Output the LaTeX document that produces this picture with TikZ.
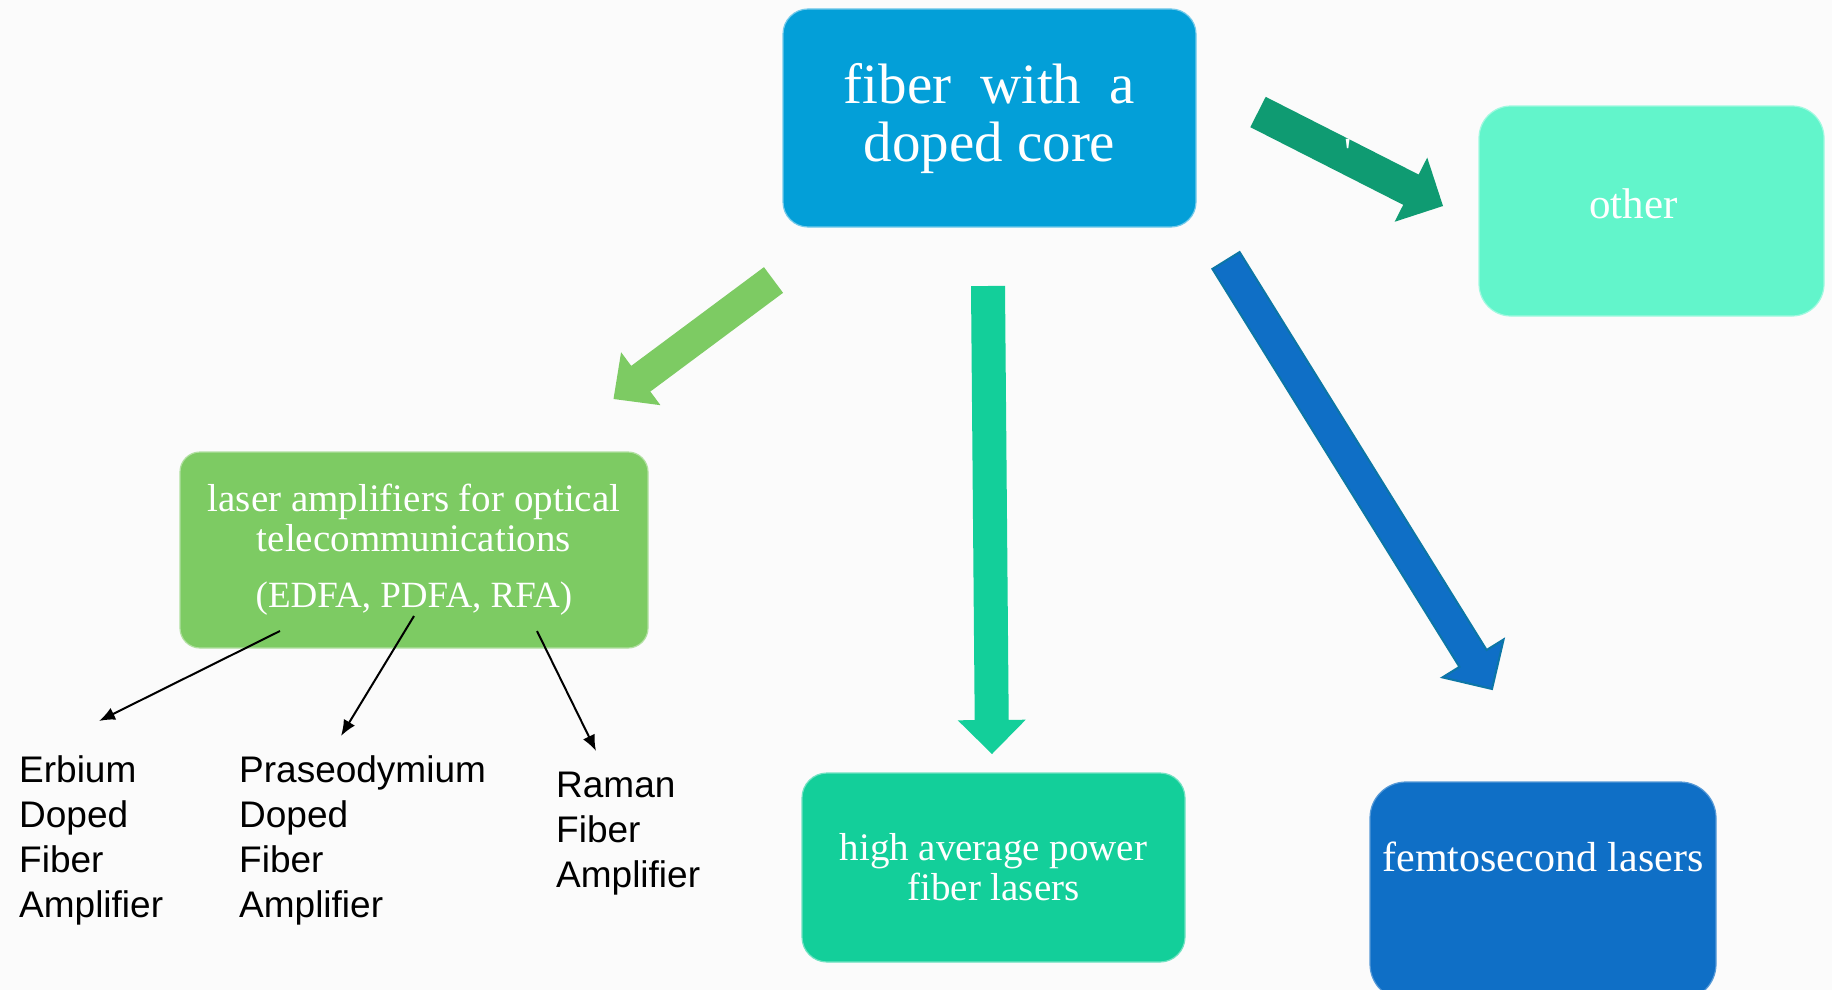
\documentclass[tikz,border=0pt]{standalone}
\usepackage{fontspec}
\setmainfont{Liberation Serif}
\newfontfamily\labelfont{Liberation Sans}
\usetikzlibrary{calc,arrows.meta}
\definecolor{bgcol}{HTML}{FBFBFB}
\definecolor{corecol}{HTML}{039FD8}
\definecolor{othercol}{HTML}{62F5CB}
\definecolor{ampcol}{HTML}{7DCB63}
\definecolor{darkarrow}{HTML}{0F9B72}
\definecolor{tealcol}{HTML}{13CF9A}
\definecolor{bluecol}{HTML}{0F6FC6}
\definecolor{blueedge}{HTML}{0C76A6}
\newcommand{\blockarrow}[6]{%
  \coordinate (bahead) at ($(#3)!#6!(#2)$);
  \filldraw[#1] ($(#2)!#4!90:(#3)$) -- ($(bahead)!#4!90:(#3)$) -- ($(bahead)!#5!90:(#3)$) -- (#3) -- ($(bahead)!#5!-90:(#3)$) -- ($(bahead)!#4!-90:(#3)$) -- ($(#2)!#4!-90:(#3)$) -- cycle;}
\tikzset{
  box/.style={rectangle, rounded corners=25pt, text=white, align=center, inner sep=0pt, line width=1.2pt},
  lbl/.style={anchor=base west, align=left, inner sep=0pt, font=\labelfont\fontsize{37}{45}\selectfont},
  thinarrow/.style={draw=black, line width=2pt, -{Latex[length=16pt,width=13pt]}},
}
\begin{document}
\begin{tikzpicture}[x=1pt,y=-1pt]
\useasboundingbox (0,0) rectangle (1832,990);
\clip (0,0) rectangle (1832,990);
\fill[bgcol] (0,0) rectangle (1832,990);

% boxes
\node[box, fill=corecol, draw=corecol!55!white, minimum width=413pt, minimum height=218pt,
      font=\fontsize{57}{58}\selectfont] (core) at (989.5,118) {fiber\ \ with\ \ a\\doped core};
\node[box, rounded corners=32pt, fill=othercol, draw=othercol!60!white, minimum width=345pt, minimum height=210pt,
      text height=30pt, text depth=16pt, font=\fontsize{43}{45}\selectfont] (other) at (1651.5,211) {other\hspace*{36pt}};
\node[box, rounded corners=20pt, fill=ampcol, draw=ampcol!60!white, minimum width=468pt, minimum height=196pt,
      font=\fontsize{39}{40}\selectfont] (amp) at (414,550)
      {laser amplifiers for optical\\telecommunications\\[16pt]{\fontsize{37}{40}\selectfont (EDFA, PDFA, RFA)}};
\node[box, fill=tealcol, draw=tealcol!60!white, minimum width=383pt, minimum height=189pt,
      font=\fontsize{39}{40}\selectfont] (high) at (993.5,867.5) {high average power\\fiber lasers};
\node[box, rounded corners=36pt, fill=bluecol, draw=bluecol!70!white, minimum width=346pt, minimum height=218pt,
      text height=30pt, text depth=70pt, font=\fontsize{42}{44}\selectfont] (femto) at (1543,891) {femtosecond lasers};

% block arrows
\coordinate (a1t) at (1258,112); \coordinate (a1h) at (1443,206);
\coordinate (a2t) at (773.5,280); \coordinate (a2h) at (613.5,399);
\coordinate (a3t) at (988,286);  \coordinate (a3h) at (992,754);
\coordinate (a4t) at (1226,260.5); \coordinate (a4h) at (1492,689);
\blockarrow{fill=darkarrow, draw=none}{a1t}{a1h}{17pt}{36pt}{36pt}
\blockarrow{fill=ampcol, draw=none}{a2t}{a2h}{16pt}{33pt}{34pt}
\blockarrow{fill=tealcol, draw=none}{a3t}{a3h}{17pt}{34pt}{34pt}
\blockarrow{fill=bluecol, draw=blueedge, line width=2pt, line join=miter}{a4t}{a4h}{16pt}{36pt}{36pt}
\node[text=white, inner sep=0pt, font=\fontsize{40}{40}\selectfont] (tick) at (1348,152) {\textquotesingle};

% thin arrows and labels
\coordinate (e1s) at (280,631); \coordinate (e1t) at (99,721);
\coordinate (p1s) at (414,616); \coordinate (p1t) at (341,736);
\coordinate (r1s) at (537,631); \coordinate (r1t) at (596,751);
\draw[thinarrow] (e1s) -- (e1t);
\draw[thinarrow] (p1s) -- (p1t);
\draw[thinarrow] (r1s) -- (r1t);
\node[lbl] (erb) at (19,917) {Erbium\\Doped\\Fiber\\Amplifier};
\node[lbl] (pra) at (239,917) {Praseodymium\\Doped\\Fiber\\Amplifier};
\node[lbl] (ram) at (556,887) {Raman\\Fiber\\Amplifier};
\end{tikzpicture}
\end{document}
